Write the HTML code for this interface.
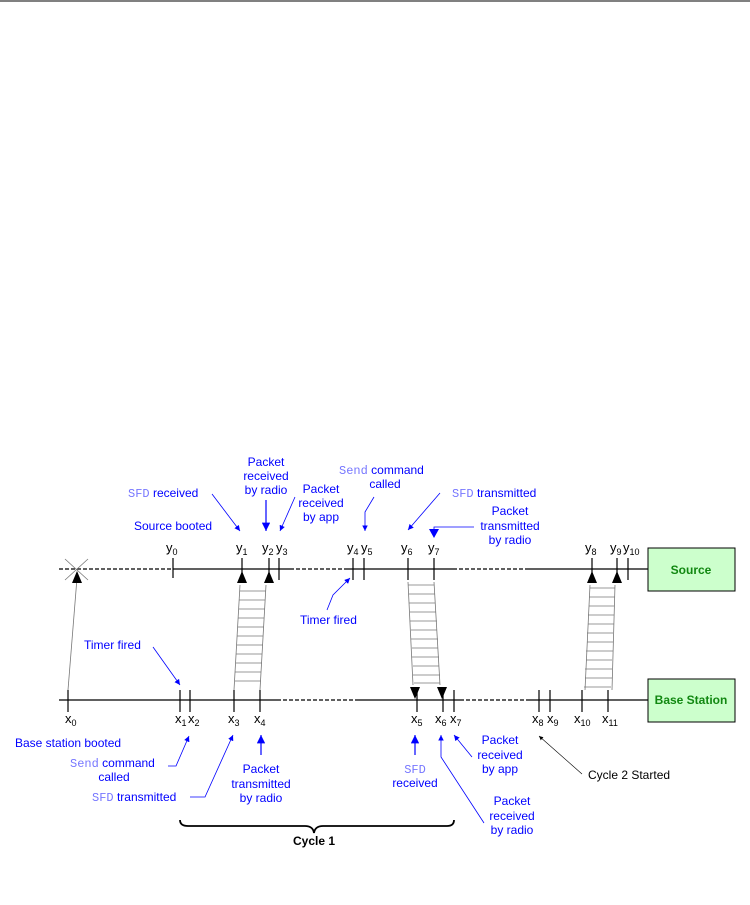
<!DOCTYPE html>
<html><head><meta charset="utf-8"><style>
body{margin:0;background:#fff;width:750px;height:905px;overflow:hidden}
svg{display:block}
text{font-family:"Liberation Sans",sans-serif;font-size:12px}
.b{fill:#0000ff}
.m{font-family:"Liberation Mono",monospace;fill:#7777ff;font-size:12px}
.s{font-size:13px}
</style></head><body>
<svg width="750" height="905" viewBox="0 0 750 905">
<defs>
<marker id="ab" viewBox="0 0 10 10" refX="10" refY="5" markerWidth="7" markerHeight="7" orient="auto"><path d="M0,0L10,5L0,10z" fill="#0000ff"/></marker>
<marker id="ak" viewBox="0 0 10 10" refX="10" refY="5" markerWidth="7" markerHeight="7" orient="auto"><path d="M0,0L10,5L0,10z" fill="#000"/></marker>
</defs>
<line x1="0" y1="1" x2="750" y2="1" stroke="#000" stroke-width="1"/>
<g stroke="#000" stroke-width="1.2">
<line x1="59" y1="569" x2="173" y2="569" stroke-dasharray="4,2"/>
<line x1="173" y1="569" x2="290" y2="569"/>
<line x1="290" y1="569" x2="347" y2="569" stroke-dasharray="4,2"/>
<line x1="347" y1="569" x2="453" y2="569"/>
<line x1="453" y1="569" x2="528" y2="569" stroke-dasharray="4,2"/>
<line x1="528" y1="569" x2="648" y2="569"/>
<line x1="59" y1="700" x2="277" y2="700"/>
<line x1="277" y1="700" x2="355" y2="700" stroke-dasharray="4,2"/>
<line x1="355" y1="700" x2="460" y2="700"/>
<line x1="460" y1="700" x2="530" y2="700" stroke-dasharray="4,2"/>
<line x1="530" y1="700" x2="648" y2="700"/>
</g>
<g stroke="#000" stroke-width="1.2">
<line x1="173" y1="558" x2="173" y2="578"/>
<line x1="242" y1="558" x2="242" y2="575"/>
<line x1="269" y1="558" x2="269" y2="575"/>
<line x1="279" y1="558" x2="279" y2="580"/>
<line x1="353" y1="558" x2="353" y2="580"/>
<line x1="364" y1="558" x2="364" y2="580"/>
<line x1="408" y1="558" x2="408" y2="580"/>
<line x1="434" y1="558" x2="434" y2="580"/>
<line x1="592" y1="558" x2="592" y2="575"/>
<line x1="617" y1="558" x2="617" y2="575"/>
<line x1="628" y1="558" x2="628" y2="580"/>
<line x1="68" y1="690" x2="68" y2="712"/>
<line x1="180" y1="690" x2="180" y2="712"/>
<line x1="190" y1="690" x2="190" y2="712"/>
<line x1="234" y1="690" x2="234" y2="712"/>
<line x1="260" y1="690" x2="260" y2="712"/>
<line x1="417" y1="690" x2="417" y2="712"/>
<line x1="443" y1="690" x2="443" y2="712"/>
<line x1="454" y1="690" x2="454" y2="712"/>
<line x1="539" y1="690" x2="539" y2="712"/>
<line x1="550" y1="690" x2="550" y2="712"/>
<line x1="582" y1="690" x2="582" y2="712"/>
<line x1="608" y1="690" x2="608" y2="712"/>
</g>
<g stroke="#777" stroke-width="0.8"><line x1="65" y1="559" x2="88" y2="580"/><line x1="88" y1="559" x2="65" y2="580"/>
<line x1="68" y1="690" x2="77" y2="578"/></g>
<path d="M77,571 L72,583 L82,583z" fill="#000"/>
<g stroke="#777" stroke-width="0.8" fill="none">
<path d="M240,585 L234,690 M266,585 L260,690"/>
<path d="M240,591H266M239,600H265M239,609H265M238,618H264M238,627H264M237,636H263M237,645H263M236,654H262M236,663H262M235,672H261M235,681H261"/>
<path d="M408,582 L413,685 M434,582 L440,685"/>
<path d="M408,585H434M409,594H435M409,603H435M410,612H436M410,621H437M411,630H437M411,639H438M412,648H438M412,657H439M413,666H439M413,675H440M414,683H440"/>
<path d="M590,585 L585,690 M615,585 L612,690"/>
<path d="M590,588H615M589,597H615M589,606H614M588,615H614M588,624H614M587,633H613M587,642H613M586,651H613M586,660H612M585,669H612M585,678H612M584,687H611"/>
</g>
<g fill="#000">
<path d="M242,571 L237,583 L247,583z"/><path d="M269,571 L264,583 L274,583z"/>
<path d="M592,571 L587,583 L597,583z"/><path d="M617,571 L612,583 L622,583z"/>
<path d="M415,699 L410,687 L420,687z"/><path d="M442,699 L437,687 L447,687z"/>
</g>
<rect x="648" y="548" width="87" height="43" fill="#ccffcc" stroke="#000"/>
<text x="691" y="574" text-anchor="middle" font-weight="bold" fill="#118811">Source</text>
<rect x="648" y="679" width="87" height="43" fill="#ccffcc" stroke="#000"/>
<text x="691" y="704" text-anchor="middle" font-weight="bold" fill="#118811">Base Station</text>
<g fill="#000" class="s">
<text class="s" x="166" y="552">y<tspan font-size="9" dy="3">0</tspan></text>
<text class="s" x="236" y="552">y<tspan font-size="9" dy="3">1</tspan></text>
<text class="s" x="262" y="552">y<tspan font-size="9" dy="3">2</tspan></text>
<text class="s" x="276" y="552">y<tspan font-size="9" dy="3">3</tspan></text>
<text class="s" x="347" y="552">y<tspan font-size="9" dy="3">4</tspan></text>
<text class="s" x="361" y="552">y<tspan font-size="9" dy="3">5</tspan></text>
<text class="s" x="401" y="552">y<tspan font-size="9" dy="3">6</tspan></text>
<text class="s" x="428" y="552">y<tspan font-size="9" dy="3">7</tspan></text>
<text class="s" x="585" y="552">y<tspan font-size="9" dy="3">8</tspan></text>
<text class="s" x="610" y="552">y<tspan font-size="9" dy="3">9</tspan></text>
<text class="s" x="623" y="552">y<tspan font-size="9" dy="3">10</tspan></text>
<text class="s" x="65" y="723">x<tspan font-size="9" dy="3">0</tspan></text>
<text class="s" x="175" y="723">x<tspan font-size="9" dy="3">1</tspan></text>
<text class="s" x="188" y="723">x<tspan font-size="9" dy="3">2</tspan></text>
<text class="s" x="228" y="723">x<tspan font-size="9" dy="3">3</tspan></text>
<text class="s" x="254" y="723">x<tspan font-size="9" dy="3">4</tspan></text>
<text class="s" x="411" y="723">x<tspan font-size="9" dy="3">5</tspan></text>
<text class="s" x="435" y="723">x<tspan font-size="9" dy="3">6</tspan></text>
<text class="s" x="450" y="723">x<tspan font-size="9" dy="3">7</tspan></text>
<text class="s" x="532" y="723">x<tspan font-size="9" dy="3">8</tspan></text>
<text class="s" x="547" y="723">x<tspan font-size="9" dy="3">9</tspan></text>
<text class="s" x="574" y="723">x<tspan font-size="9" dy="3">10</tspan></text>
<text class="s" x="602" y="723">x<tspan font-size="9" dy="3">11</tspan></text>
</g>
<text x="134" y="530" class="b">Source booted</text>
<text x="128" y="497"><tspan class="m">SFD</tspan><tspan class="b"> received</tspan></text>
<line x1="212" y1="494" x2="240" y2="531" stroke="#0000ff" stroke-width="0.8" marker-end="url(#ab)"/>
<text class="b" x="266" y="466" text-anchor="middle">Packet</text>
<text class="b" x="266" y="480" text-anchor="middle">received</text>
<text class="b" x="266" y="494" text-anchor="middle">by radio</text>
<line x1="266" y1="500" x2="266" y2="531" stroke="#0000ff" stroke-width="1.2" marker-end="url(#ab)"/>
<text class="b" x="321" y="493" text-anchor="middle">Packet</text>
<text class="b" x="321" y="507" text-anchor="middle">received</text>
<text class="b" x="321" y="521" text-anchor="middle">by app</text>
<line x1="295" y1="497" x2="280" y2="531" stroke="#0000ff" stroke-width="0.8" marker-end="url(#ab)"/>
<text x="339" y="474"><tspan class="m">Send</tspan><tspan class="b"> command</tspan></text>
<text class="b" x="385" y="488" text-anchor="middle">called</text>
<path d="M374,497 L365,512 L365,531" stroke="#0000ff" stroke-width="0.8" fill="none" marker-end="url(#ab)"/>
<text x="452" y="497"><tspan class="m">SFD</tspan><tspan class="b"> transmitted</tspan></text>
<line x1="440" y1="493" x2="408" y2="530" stroke="#0000ff" stroke-width="0.8" marker-end="url(#ab)"/>
<text class="b" x="510" y="515" text-anchor="middle">Packet</text>
<text class="b" x="510" y="530" text-anchor="middle">transmitted</text>
<text class="b" x="510" y="544" text-anchor="middle">by radio</text>
<path d="M474,527 L434,527 L434,531" stroke="#0000ff" stroke-width="0.8" fill="none"/>
<path d="M434,538 L429,529 L439,529z" fill="#0000ff"/>
<text class="b" x="300" y="624">Timer fired</text>
<path d="M327,610 L333,595 L350,578" stroke="#0000ff" stroke-width="0.8" fill="none" marker-end="url(#ab)"/>
<text class="b" x="84" y="649">Timer fired</text>
<line x1="153" y1="647" x2="180" y2="685" stroke="#0000ff" stroke-width="0.8" marker-end="url(#ab)"/>
<text class="b" x="15" y="747">Base station booted</text>
<text x="70" y="767"><tspan class="m">Send</tspan><tspan class="b"> command</tspan></text>
<text class="b" x="114" y="781" text-anchor="middle">called</text>
<path d="M168,766 L176,766 L189,736" stroke="#0000ff" stroke-width="0.8" fill="none" marker-end="url(#ab)"/>
<text x="92" y="801"><tspan class="m">SFD</tspan><tspan class="b"> transmitted</tspan></text>
<path d="M190,797 L205,797 L233,735" stroke="#0000ff" stroke-width="0.8" fill="none" marker-end="url(#ab)"/>
<text class="b" x="261" y="773" text-anchor="middle">Packet</text>
<text class="b" x="261" y="788" text-anchor="middle">transmitted</text>
<text class="b" x="261" y="802" text-anchor="middle">by radio</text>
<line x1="261" y1="755" x2="261" y2="735" stroke="#0000ff" stroke-width="1.2" marker-end="url(#ab)"/>
<text class="m" x="415" y="773" text-anchor="middle">SFD</text>
<text class="b" x="415" y="787" text-anchor="middle">received</text>
<line x1="415" y1="755" x2="415" y2="735" stroke="#0000ff" stroke-width="1.2" marker-end="url(#ab)"/>
<text class="b" x="500" y="744" text-anchor="middle">Packet</text>
<text class="b" x="500" y="759" text-anchor="middle">received</text>
<text class="b" x="500" y="773" text-anchor="middle">by app</text>
<line x1="472" y1="757" x2="454" y2="735" stroke="#0000ff" stroke-width="0.8" marker-end="url(#ab)"/>
<text class="b" x="512" y="805" text-anchor="middle">Packet</text>
<text class="b" x="512" y="820" text-anchor="middle">received</text>
<text class="b" x="512" y="834" text-anchor="middle">by radio</text>
<path d="M484,823 L441,757 L441,735" stroke="#0000ff" stroke-width="0.8" fill="none" marker-end="url(#ab)"/>
<text x="588" y="779" fill="#000">Cycle 2 Started</text>
<line x1="582" y1="774" x2="539" y2="736" stroke="#000" stroke-width="0.6" marker-end="url(#ak)"/>
<path d="M180,820 Q180,826 188,826 L305,826 Q313,826 314,833 Q315,826 323,826 L447,826 Q454,826 454,820" stroke="#000" stroke-width="1.8" fill="none"/>
<text x="314" y="845" text-anchor="middle" font-weight="bold" font-size="11">Cycle 1</text>
</svg>
</body></html>
